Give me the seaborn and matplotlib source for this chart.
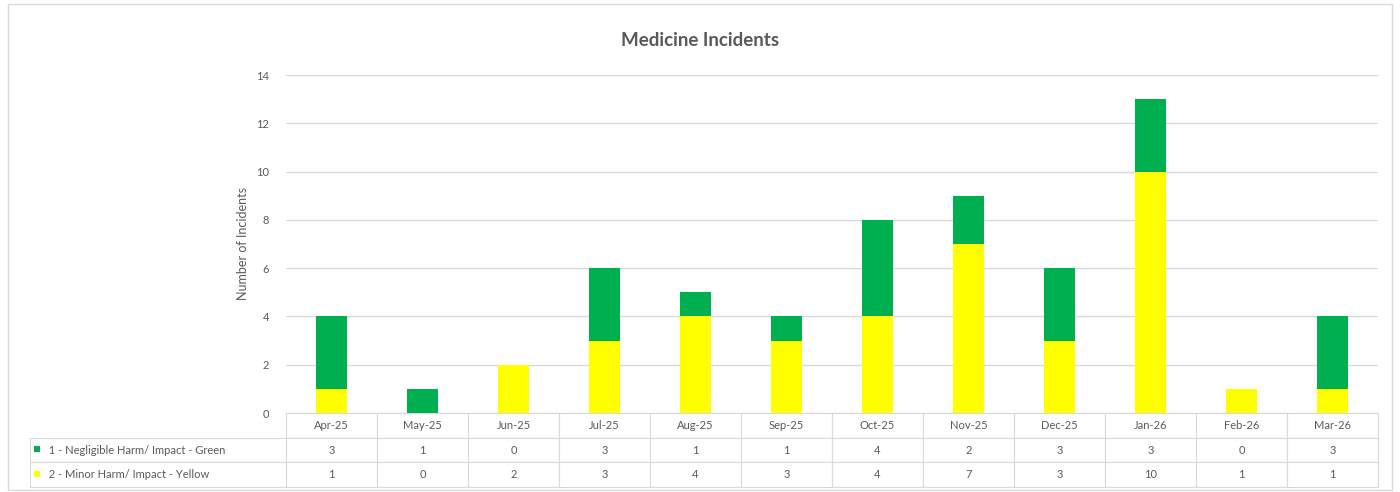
import matplotlib
matplotlib.use("Agg")
import matplotlib.pyplot as plt
import seaborn as sns
import pandas as pd
from matplotlib.patches import Rectangle

months = ["Apr-25", "May-25", "Jun-25", "Jul-25", "Aug-25", "Sep-25",
          "Oct-25", "Nov-25", "Dec-25", "Jan-26", "Feb-26", "Mar-26"]
green_vals = [3, 1, 0, 3, 1, 1, 4, 2, 3, 3, 0, 3]
yellow_vals = [1, 0, 2, 3, 4, 3, 4, 7, 3, 10, 1, 1]
series_names = ["1 - Negligible Harm/ Impact - Green", "2 - Minor Harm/ Impact - Yellow"]
title = "Medicine Incidents"
ylabel = "Number of Incidents"

GREEN = "#00B050"
YELLOW = "#FFFF00"
TXT = "#595959"
GRID = "#D9D9D9"

sns.set_theme(style="white")
plt.rcParams["font.family"] = ["Lato", "DejaVu Sans"]

df = pd.DataFrame({"month": months, "green": green_vals, "yellow": yellow_vals})
df["total"] = df["green"] + df["yellow"]

fig = plt.figure(figsize=(14, 4.92), dpi=100)
ax = fig.add_axes([286/1400, 1 - 413/492, 1092/1400, 338/492])

sns.barplot(data=df, x="month", y="total", color=GREEN, width=0.33,
            saturation=1, ax=ax, zorder=2, linewidth=0, edgecolor="none")
sns.barplot(data=df, x="month", y="yellow", color=YELLOW, width=0.33,
            saturation=1, ax=ax, zorder=3, linewidth=0, edgecolor="none")

ax.set_ylim(0, 14)
ax.set_xlim(-0.5, 11.5)
ax.set_yticks(range(0, 15, 2))
ax.tick_params(axis="y", colors=TXT, labelsize=8, length=0, pad=12)
ax.set_xticks([])
ax.set_xlabel("")
ax.set_ylabel(ylabel, color=TXT, fontsize=9, labelpad=5)
ax.yaxis.grid(True, color=GRID, linewidth=1, zorder=0)
ax.set_axisbelow(True)
for s in ax.spines.values():
    s.set_visible(False)

# data table
label_w = 256 / 1092
col_w = (1.0) / 12
cell_text = [[""] + months,
             [series_names[0]] + [str(v) for v in green_vals],
             [series_names[1]] + [str(v) for v in yellow_vals]]
tbl = ax.table(cellText=cell_text, cellLoc="center",
               colWidths=[label_w] + [col_w] * 12,
               bbox=[-label_w, -74/338, 1 + label_w, 74/338])
tbl.auto_set_font_size(False)
for (r, c), cell in tbl.get_celld().items():
    cell.set_edgecolor(GRID)
    cell.set_linewidth(0.8)
    cell.get_text().set_color(TXT)
    cell.get_text().set_fontsize(8)
    if c == 0:
        cell.get_text().set_ha("left")
        cell._loc = "left"
        cell.PAD = 0.05
        if r == 0:
            cell.set_visible(False)
        else:
            cell.get_text().set_text("  " + cell_text[r][0])

# legend keys
for i, col in enumerate([GREEN, YELLOW]):
    yc = 1 - (449 + 25 * i) / 492
    fig.patches.append(Rectangle((34/1400, yc - 3/492), 6/1400, 6/492,
                                 transform=fig.transFigure, facecolor=col,
                                 edgecolor="none"))

fig.text(0.5, 1 - 40/492, title, ha="center", va="center", fontsize=13.5,
         fontweight="bold", color=TXT)

fig.patches.append(Rectangle((8/1400, 2/492), 1384/1400, 486/492,
                             transform=fig.transFigure, facecolor="none",
                             edgecolor=GRID, linewidth=1))

fig.savefig("out.png", dpi=100)
